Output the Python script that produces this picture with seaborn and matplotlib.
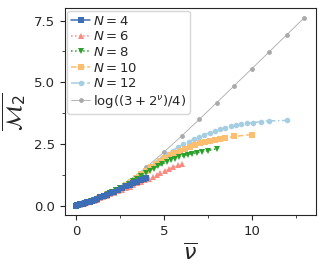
import matplotlib
matplotlib.use("Agg")
import numpy as np
import pandas as pd
import seaborn as sns
from matplotlib import pyplot as plt
from matplotlib.ticker import AutoMinorLocator

# === data ===
nu_4 = [0, 0.06, 0.13, 0.21, 0.3, 0.4, 0.51, 0.63, 0.76, 0.9, 1.05, 1.21, 1.38,
        1.56, 1.75, 1.95, 2.16, 2.38, 2.6, 2.82, 3.04, 3.26, 3.47, 3.67, 3.85, 4.0]
m2_4 = [0, 0.012, 0.026, 0.042, 0.06, 0.08, 0.102, 0.128, 0.156, 0.188, 0.233,
        0.277, 0.326, 0.378, 0.435, 0.495, 0.56, 0.63, 0.70, 0.772, 0.842, 0.908,
        0.97, 1.03, 1.08, 1.12]

nu_6 = [0, 0.09, 0.19, 0.3, 0.42, 0.55, 0.69, 0.84, 1.0, 1.17, 1.35, 1.54, 1.74,
        1.95, 2.16, 2.38, 2.6, 2.82, 3.04, 3.26, 3.48, 3.7, 3.92, 4.14, 4.36, 4.58,
        4.8, 5.03, 5.27, 5.52, 5.78, 6.0]
m2_6 = [0, 0.016, 0.034, 0.054, 0.075, 0.1, 0.13, 0.163, 0.2, 0.243, 0.29, 0.341,
        0.397, 0.456, 0.512, 0.57, 0.63, 0.695, 0.76, 0.828, 0.894, 0.96, 1.025,
        1.09, 1.155, 1.23, 1.31, 1.39, 1.47, 1.56, 1.64, 1.70]

nu_8 = [0, 0.11, 0.23, 0.36, 0.5, 0.66, 0.83, 1.01, 1.2, 1.4, 1.61, 1.83, 2.05,
        2.28, 2.51, 2.75, 2.99, 3.23, 3.47, 3.71, 3.95, 4.19, 4.43, 4.67, 4.91,
        5.15, 5.39, 5.63, 5.87, 6.11, 6.35, 6.6, 6.86, 7.14, 7.5, 8.0]
m2_8 = [0, 0.021, 0.045, 0.071, 0.1, 0.136, 0.177, 0.222, 0.275, 0.33, 0.395,
        0.465, 0.535, 0.615, 0.695, 0.78, 0.875, 0.975, 1.08, 1.18, 1.30, 1.40,
        1.50, 1.60, 1.69, 1.77, 1.84, 1.90, 1.96, 2.01, 2.05, 2.10, 2.14, 2.18,
        2.23, 2.30]

nu_10 = [0, 0.13, 0.28, 0.44, 0.62, 0.82, 1.04, 1.27, 1.51, 1.76, 2.02, 2.29,
         2.56, 2.84, 3.12, 3.4, 3.68, 3.96, 4.24, 4.52, 4.8, 5.08, 5.36, 5.64,
         5.92, 6.2, 6.48, 6.76, 7.04, 7.32, 7.6, 7.88, 8.18, 8.5, 9.0, 10.0]
m2_10 = [0, 0.025, 0.055, 0.088, 0.128, 0.176, 0.23, 0.295, 0.365, 0.45, 0.54,
         0.63, 0.73, 0.84, 0.97, 1.11, 1.26, 1.41, 1.55, 1.68, 1.80, 1.92, 2.03,
         2.13, 2.22, 2.31, 2.38, 2.45, 2.52, 2.58, 2.63, 2.67, 2.71, 2.75, 2.80,
         2.88]

nu_12 = [0, 0.15, 0.32, 0.5, 0.7, 0.92, 1.15, 1.4, 1.66, 1.93, 2.21, 2.5, 2.8,
         3.1, 3.4, 3.7, 4.0, 4.3, 4.6, 4.9, 5.2, 5.5, 5.8, 6.1, 6.4, 6.7, 7.0,
         7.3, 7.6, 7.9, 8.2, 8.5, 8.8, 9.1, 9.4, 9.7, 10.05, 10.5, 11.0, 12.0]
m2_12 = [0, 0.028, 0.062, 0.1, 0.147, 0.2, 0.26, 0.33, 0.41, 0.505, 0.6, 0.71,
         0.84, 0.98, 1.13, 1.29, 1.46, 1.62, 1.78, 1.94, 2.09, 2.23, 2.36, 2.48,
         2.59, 2.69, 2.78, 2.87, 2.95, 3.03, 3.09, 3.15, 3.21, 3.25, 3.30, 3.33,
         3.36, 3.40, 3.43, 3.45]

nu_ref = [0, 1, 2, 3, 4, 5, 6, 7, 8, 9, 10, 11, 12, 13]
m2_ref = [0.0, 0.2231, 0.5596, 1.0116, 1.5581, 2.1691, 2.8184, 3.4889, 4.1705,
          4.8578, 5.5481, 6.2398, 6.9321, 7.6250]

series = [
    (nu_4, m2_4, r"$N=4$", "#3d6db4", "s", "-"),
    (nu_6, m2_6, r"$N=6$", "#fb8a80", "^", ":"),
    (nu_8, m2_8, r"$N=8$", "#2ca02c", "v", ":"),
    (nu_10, m2_10, r"$N=10$", "#fdbf6f", "s", "--"),
    (nu_12, m2_12, r"$N=12$", "#a6cee3", "o", "-."),
]

sns.set_style("ticks")
fig, ax = plt.subplots(figsize=(3.24, 2.7), dpi=100)
fig.subplots_adjust(left=0.2, right=0.975, top=0.97, bottom=0.204)

# small N drawn last, so it sits on top where the curves overlap
for i, (nu, m2, label, color, marker, ls) in enumerate(series):
    sns.lineplot(x=nu, y=m2, ax=ax, color=color, marker=marker, linestyle=ls,
                 markersize=4, markeredgewidth=0, linewidth=1.1, label=label,
                 estimator=None, sort=False, zorder=10 - i)

sns.lineplot(x=nu_ref, y=m2_ref, ax=ax, color="#aaaaaa", marker="o",
             markersize=3.5, markeredgewidth=0, linewidth=0.6,
             label=r"$\log((3+2^{\nu})/4)$", estimator=None, sort=False, zorder=2)

ax.set_xlabel(r"$\overline{\nu}$", fontsize=16)
ax.set_ylabel(r"$\overline{\mathcal{M}_2}$", fontsize=16)
ax.set_xticks([0, 5, 10])
ax.set_yticks([0.0, 2.5, 5.0, 7.5])
ax.xaxis.set_minor_locator(AutoMinorLocator(2))
ax.yaxis.set_minor_locator(AutoMinorLocator(2))
ax.tick_params(labelsize=9.5)
ax.tick_params(which="minor", length=2.5)
ax.margins(x=0.05, y=0.05)

ax.legend(loc="upper left", fontsize=9.5, labelspacing=0.2, handlelength=1.4,
          handletextpad=0.2, borderpad=0.3, borderaxespad=0.2)

fig.savefig("out.png", dpi=100)
